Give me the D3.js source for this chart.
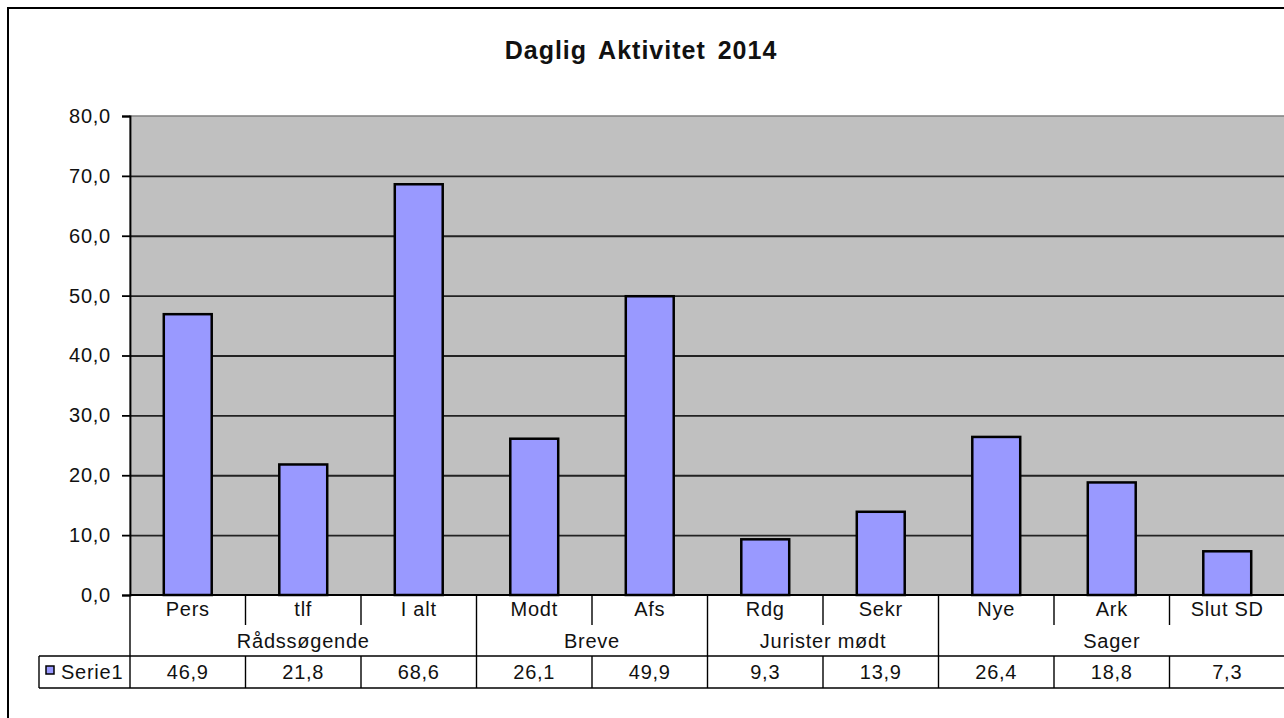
<!DOCTYPE html>
<html>
<head>
<meta charset="utf-8">
<script src="https://cdn.jsdelivr.net/npm/d3@7"></script>
<style>
  html, body { margin: 0; padding: 0; background: #fff; overflow: hidden; }
  text { font-family: "Liberation Sans", Arial, sans-serif; fill: #111; }
</style>
</head>
<body>
<svg id="chart" width="1284" height="718"></svg>
<script>
const title = "Daglig Aktivitet 2014";
const categories = ["Pers", "tlf", "I alt", "Modt", "Afs", "Rdg", "Sekr", "Nye", "Ark", "Slut SD"];
const values = [46.9, 21.8, 68.6, 26.1, 49.9, 9.3, 13.9, 26.4, 18.8, 7.3];
const groupNames = ["Rådssøgende", "Breve", "Jurister mødt", "Sager"];
const groupSizes = [3, 2, 2, 3];
const seriesName = "Serie1";
const yTicks = [0, 10, 20, 30, 40, 50, 60, 70, 80];

const svg = d3.select("#chart");
const plot = { left: 130, top: 116, right: 1285, bottom: 595 };
const fmt = d => d3.format(".1f")(d).replace(".", ",");

// outer chart border
svg.append("rect").attr("x", 8).attr("y", 8).attr("width", 1320).attr("height", 740)
  .attr("fill", "#fff").attr("stroke", "#000").attr("stroke-width", 2);

// title
svg.append("text").attr("x", 641).attr("y", 59).attr("text-anchor", "middle")
  .style("font-size", "25px").style("font-weight", "bold")
  .style("letter-spacing", "1px").style("word-spacing", "4px")
  .text(title);

const x = d3.scaleBand().domain(categories).range([plot.left, plot.right])
  .paddingInner(0.585).paddingOuter(0.2925);
const step = x.step();
const cellLeft = i => plot.left + i * step;

const y = d3.scaleLinear().domain([0, 80]).range([plot.bottom, plot.top]);

// plot area
svg.append("rect").attr("x", plot.left).attr("y", plot.top)
  .attr("width", plot.right - plot.left).attr("height", plot.bottom - plot.top)
  .attr("fill", "#C0C0C0").attr("stroke", "#808080").attr("stroke-width", 1.5);

// gridlines
const grid = svg.append("g").attr("transform", `translate(${plot.left},0)`)
  .call(d3.axisLeft(y).tickValues(yTicks.filter(d => d > 0 && d < 80))
    .tickSize(-(plot.right - plot.left)).tickFormat(""));
grid.select(".domain").remove();
grid.selectAll("line").attr("stroke", "#222").attr("stroke-width", 1.8);

// bars
svg.append("g").selectAll("rect").data(values).join("rect")
  .attr("x", (d, i) => x(categories[i]))
  .attr("y", d => y(d))
  .attr("width", x.bandwidth())
  .attr("height", d => y(0) - y(d))
  .attr("fill", "#9999FF").attr("stroke", "#000").attr("stroke-width", 2.5);

// y axis
const yAxis = svg.append("g").attr("transform", `translate(${plot.left},0)`)
  .call(d3.axisLeft(y).tickValues(yTicks).tickSize(8).tickPadding(11).tickFormat(fmt));
yAxis.select(".domain").attr("stroke", "#000").attr("stroke-width", 1.8);
yAxis.selectAll(".tick line").attr("stroke", "#000").attr("stroke-width", 1.8);
yAxis.selectAll(".tick text").style("font-size", "20px").style("letter-spacing", "0.75px")
  .style("font-family", '"Liberation Sans", Arial, sans-serif').attr("fill", "#111");

// baseline
svg.append("line").attr("x1", plot.left).attr("x2", plot.right)
  .attr("y1", y(0)).attr("y2", y(0)).attr("stroke", "#000").attr("stroke-width", 1.8);

// table
const tbl = svg.append("g").attr("stroke", "#000").attr("stroke-width", 1.4);
const rowTop = 656, rowBottom = 688;
const groupStarts = [];
let acc = 0;
groupSizes.forEach(s => { groupStarts.push(acc); acc += s; });
for (let i = 1; i < categories.length; i++) {
  const isGroupStart = groupStarts.includes(i);
  tbl.append("line").attr("x1", cellLeft(i)).attr("x2", cellLeft(i))
    .attr("y1", plot.bottom).attr("y2", isGroupStart ? rowBottom : 625);
  if (!isGroupStart) {
    tbl.append("line").attr("x1", cellLeft(i)).attr("x2", cellLeft(i))
      .attr("y1", rowTop).attr("y2", rowBottom);
  }
}
tbl.append("line").attr("x1", plot.left).attr("x2", plot.left).attr("y1", plot.bottom).attr("y2", rowBottom);
tbl.append("line").attr("x1", 39).attr("x2", 1290).attr("y1", rowTop).attr("y2", rowTop);
tbl.append("line").attr("x1", 39).attr("x2", 1290).attr("y1", rowBottom).attr("y2", rowBottom);
tbl.append("line").attr("x1", 39).attr("x2", 39).attr("y1", rowTop).attr("y2", rowBottom);

const txt = svg.append("g").style("font-size", "20px").style("letter-spacing", "0.75px");
txt.selectAll("text.cat").data(categories).join("text").attr("class", "cat")
  .attr("x", (d, i) => cellLeft(i) + step / 2).attr("y", 616)
  .attr("text-anchor", "middle").text(d => d);
txt.selectAll("text.grp").data(groupNames).join("text").attr("class", "grp")
  .attr("x", (d, i) => cellLeft(groupStarts[i]) + groupSizes[i] * step / 2).attr("y", 648)
  .attr("text-anchor", "middle").text(d => d);
txt.selectAll("text.val").data(values).join("text").attr("class", "val")
  .attr("x", (d, i) => cellLeft(i) + step / 2).attr("y", 679)
  .attr("text-anchor", "middle").text(d => fmt(d));
// legend key
svg.append("rect").attr("x", 46).attr("y", 666).attr("width", 8).attr("height", 8)
  .attr("fill", "#9999FF").attr("stroke", "#000").attr("stroke-width", 1.5);
txt.append("text").attr("x", 61).attr("y", 679).text(seriesName);
</script>
</body>
</html>
